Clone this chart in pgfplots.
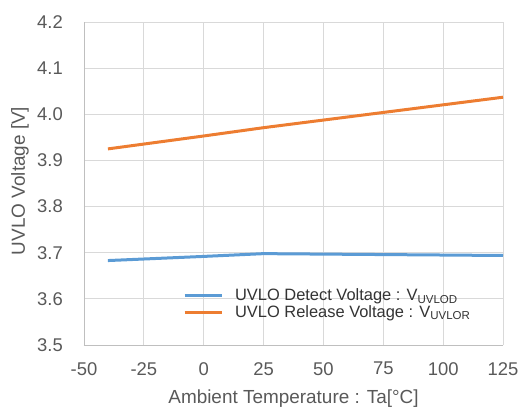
\documentclass[border=0pt]{standalone}
\usepackage{fontspec}
\setmainfont{Liberation Sans}
\usepackage{pgfplots}
\pgfplotsset{compat=1.18}
\definecolor{txtgray}{HTML}{595959}
\definecolor{gridgray}{HTML}{D9D9D9}
\definecolor{axgray}{HTML}{BFBFBF}
\definecolor{ublue}{HTML}{5B9BD5}
\definecolor{uorange}{HTML}{ED7D31}
\begin{document}
\begin{tikzpicture}
\begin{axis}[
  at={(0,0)}, anchor=south west,
  scale only axis, width=419bp, height=323bp,
  xmin=-50, xmax=125, ymin=3.5, ymax=4.2,
  xtick={-50,-25,0,25,50,75,100,125},
  ytick={3.5,3.6,3.7,3.8,3.9,4.0,4.1,4.2},
  grid=major,
  major grid style={gridgray, line width=0.9bp},
  axis line style={axgray, line width=0.9bp},
  axis x line*=bottom, axis y line*=left,
  tick style={draw=none},
  /pgf/number format/assume math mode=true,
  yticklabel={\pgfmathprintnumber[fixed,fixed zerofill,precision=1]{\tick}},
  xticklabel={\pgfmathprintnumber[fixed]{\tick}},
  ticklabel style={font=\fontsize{18.5}{21}\selectfont, text=txtgray},
  yticklabel style={inner sep=0pt, xshift=-21bp},
  xticklabel style={inner sep=0pt, yshift=-17bp},
  xlabel={Ambient Temperature : Ta[°C]},
  ylabel={UVLO Voltage [V]},
  label style={font=\fontsize{19}{21}\selectfont, text=txtgray},
  xlabel style={at={(axis description cs:0.5,-0.167)}, anchor=center},
  ylabel style={at={(axis description cs:-0.153,0.508)}, anchor=center},
  legend style={draw=none, fill=none, at={(axis description cs:0.236,0.127)}, anchor=west,
    font=\fontsize{16.5}{17}\selectfont, text=black!80, inner sep=0pt,
    row sep=-1bp},
  legend cell align=left,
  legend image code/.code={\draw[#1] (0bp,0bp) -- (37bp,0bp);},
  legend style={nodes={inner xsep=0pt}, /tikz/every odd column/.append style={column sep=12bp}},
]
\addplot[ublue, line width=3bp] coordinates {(-40,3.683) (0,3.692) (25,3.698) (75,3.696) (125,3.694)};
\addlegendentry{UVLO Detect Voltage : V\textsubscript{UVLOD}}
\addplot[uorange, line width=3bp] coordinates {(-40,3.925) (0,3.953) (25,3.971) (75,4.004) (125,4.037)};
\addlegendentry{UVLO Release Voltage : V\textsubscript{UVLOR}}
\end{axis}
\path[use as bounding box] (-84bp,-63bp) rectangle (439bp,345bp);
\end{tikzpicture}
\end{document}
